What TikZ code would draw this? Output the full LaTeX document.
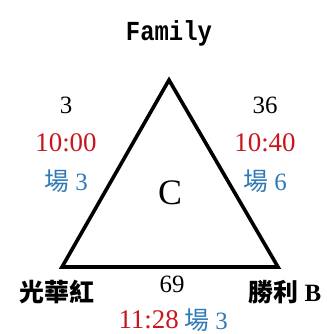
\documentclass[tikz,border=0pt]{standalone}
\usepackage{fontspec}
\setmainfont{Liberation Serif}
\newfontfamily\cjk{Noto Sans CJK TC}
\newfontfamily\monof{Liberation Mono}
\definecolor{tred}{HTML}{C8161D}
\definecolor{tblue}{HTML}{2E7AB8}
\begin{document}
\begin{tikzpicture}[x=1bp,y=-1bp,
  num/.style={font=\fontsize{25}{25}\selectfont, inner sep=0pt},
  tim/.style={font=\fontsize{27}{27}\selectfont, text=tred, inner sep=0pt},
  fld/.style={font=\fontsize{25}{25}\selectfont, text=tblue, inner sep=0pt},
  team/.style={font=\fontsize{25}{25}\selectfont\bfseries, inner sep=0pt},
  tri/.style={line width=3.6bp, line join=miter}]
\useasboundingbox (0,0) rectangle (327,334);
\fill[white] (0,0) rectangle (327,334);
\coordinate (A) at (169,80);
\coordinate (L) at (62,267);
\coordinate (R) at (278,267);
\draw[tri] (A) -- (R) -- (L) -- cycle;
\node[font=\fontsize{24}{24}\selectfont\monof\bfseries, inner sep=0pt, yscale=1.15] (fam) at (169,33) {Family};
\node[num] (n3) at (66,105) {3};
\node[tim] (t1) at (66,143) {10:00};
\node[fld] (f1) at (66,181) {{\cjk 場} 3};
\node[num] (n36) at (265,105) {36};
\node[tim] (t2) at (265,143) {10:40};
\node[fld] (f2) at (265,181) {{\cjk 場} 6};
\node[font=\fontsize{36}{36}\selectfont, inner sep=0pt] (c) at (170,193) {C};
\node[num] (n69) at (172,284) {69};
\node[team] (gh) at (57,292) {{\cjk 光華紅}};
\node[team] (sl) at (285,292) {{\cjk 勝利} B};
\node[tim, anchor=east] (t3) at (179,320) {11:28};
\node[fld, anchor=west] (f3) at (184,320) {{\cjk 場} 3};
\end{tikzpicture}
\end{document}
